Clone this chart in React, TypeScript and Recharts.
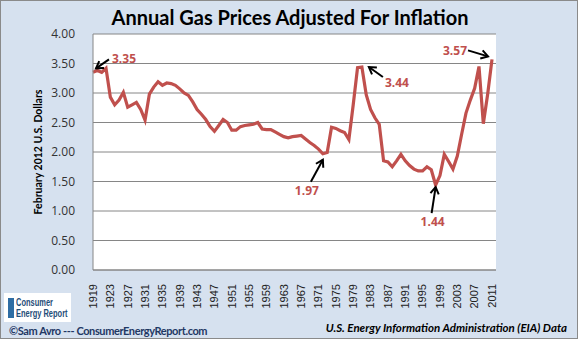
import React from "react";
import {
  LineChart,
  Line,
  XAxis,
  YAxis,
  CartesianGrid,
  ReferenceDot,
} from "recharts";

// years on the category axis
const years = [
  1919, 1920, 1921, 1922, 1923, 1924, 1925, 1926, 1927, 1928,
  1929, 1930, 1931, 1932, 1933, 1934, 1935, 1936, 1937, 1938,
  1939, 1940, 1941, 1942, 1943, 1944, 1945, 1946, 1947, 1948,
  1949, 1950, 1951, 1952, 1953, 1954, 1955, 1956, 1957, 1958,
  1959, 1960, 1961, 1962, 1963, 1964, 1965, 1966, 1967, 1968,
  1969, 1970, 1971, 1972, 1973, 1974, 1975, 1976, 1977, 1978,
  1979, 1980, 1981, 1982, 1983, 1984, 1985, 1986, 1987, 1988,
  1989, 1990, 1991, 1992, 1993, 1994, 1995, 1996, 1997, 1998,
  1999, 2000, 2001, 2002, 2003, 2004, 2005, 2006, 2007, 2008,
  2009, 2010, 2011,
];

const prices = [
  3.35, 3.38, 3.35, 3.42, 2.93, 2.8, 2.88, 3.01, 2.76, 2.8,
  2.84, 2.72, 2.54, 2.98, 3.1, 3.19, 3.13, 3.17, 3.16, 3.13,
  3.07, 3.0, 2.96, 2.85, 2.72, 2.64, 2.55, 2.43, 2.35, 2.45,
  2.55, 2.5, 2.37, 2.37, 2.43, 2.45, 2.46, 2.47, 2.5, 2.39,
  2.38, 2.38, 2.34, 2.3, 2.26, 2.24, 2.26, 2.27, 2.28, 2.22,
  2.16, 2.11, 2.05, 1.97, 1.99, 2.42, 2.4, 2.36, 2.33, 2.21,
  2.8, 3.43, 3.44, 2.97, 2.72, 2.58, 2.47, 1.85, 1.83, 1.75,
  1.85, 1.96, 1.85, 1.77, 1.71, 1.68, 1.68, 1.75, 1.7, 1.44,
  1.6, 1.96, 1.84, 1.71, 1.93, 2.3, 2.66, 2.88, 3.08, 3.45,
  2.48, 2.98, 3.57,
];

const yTicks = [0, 0.5, 1, 1.5, 2, 2.5, 3, 3.5, 4];

// called-out points
const noteYears = [1919, 1981, 1972, 1998, 2011];
const noteLabels = ["3.35", "3.44", "1.97", "1.44", "3.57"];

const data = years.map((year, i) => ({ year, price: prices[i] }));

const RED = "#C0504D";
const GRID = "#868686";
const BG = "#D6E1EF";

// arrow head / tail / text offsets from the point, per note
const noteLayout = [
  { hx: 3, hy: -4, tx: 16, ty: -13, lx: 19, ly: -13, anchor: "start" },
  { hx: 7, hy: 0, tx: 21, ty: 10, lx: 23, ly: 17, anchor: "start" },
  { hx: 0, hy: 6, tx: -12, ty: 28, lx: -16, ly: 38, anchor: "middle" },
  { hx: 0, hy: 2, tx: -4, ty: 28, lx: -3, ly: 38, anchor: "middle" },
  { hx: -4, hy: -3, tx: -24, ty: -9, lx: -25, ly: -8, anchor: "end" },
];

function noteShape(i: number) {
  return (props: any) => {
    const { cx, cy } = props;
    const l = noteLayout[i];
    const hx = cx + l.hx;
    const hy = cy + l.hy;
    const tx = cx + l.tx;
    const ty = cy + l.ty;
    const ang = Math.atan2(ty - hy, tx - hx);
    const a = 0.55;
    const len = 8;
    const p1 = [hx + len * Math.cos(ang + a), hy + len * Math.sin(ang + a)];
    const p2 = [hx + len * Math.cos(ang - a), hy + len * Math.sin(ang - a)];
    return (
      <g>
        <line x1={tx} y1={ty} x2={hx} y2={hy} stroke="#000" strokeWidth={2} />
        <polyline
          points={`${p1[0]},${p1[1]} ${hx},${hy} ${p2[0]},${p2[1]}`}
          fill="none"
          stroke="#000"
          strokeWidth={2}
        />
        <text
          x={cx + l.lx}
          y={cy + l.ly}
          textAnchor={l.anchor}
          dominantBaseline="middle"
          fill={RED}
          fontSize={12}
          fontWeight="bold"
          fontFamily="Open Sans, sans-serif"
        >
          {noteLabels[i]}
        </text>
      </g>
    );
  };
}

const YearTick = (props: any) => {
  const { x, y, payload } = props;
  return (
    <text
      x={x}
      y={y + 6}
      transform={`rotate(-90, ${x}, ${y + 6})`}
      textAnchor="end"
      dy="0.35em"
      fill="#222"
      fontSize={11}
      fontFamily="Liberation Sans, sans-serif"
    >
      {payload.value}
    </text>
  );
};

export default function App() {
  return (
    <div
      style={{
        position: "absolute",
        left: 0,
        top: 0,
        width: 578,
        height: 339,
        boxSizing: "border-box",
        background: BG,
        border: "1px solid #8a8a8a",
        overflow: "hidden",
        fontFamily: "Lato, sans-serif",
      }}
    >
      <div
        style={{
          position: "absolute",
          left: 0,
          top: 4,
          width: 578,
          textAlign: "center",
          fontSize: 20,
          fontWeight: "bold",
          color: "#000",
        }}
      >
        Annual Gas Prices Adjusted For Inflation
      </div>
      <div style={{ position: "absolute", left: -1, top: -1 }}>
        <LineChart
          width={578}
          height={339}
          data={data}
          margin={{ top: 34, right: 82, bottom: 0, left: 0 }}
        >
          <CartesianGrid
            vertical={false}
            stroke={GRID}
            fill="#ffffff"
            fillOpacity={1}
          />
          <XAxis
            dataKey="year"
            interval={3}
            height={69}
            tickLine={false}
            axisLine={{ stroke: GRID }}
            padding={{ left: 0, right: 4 }}
            tick={<YearTick />}
          />
          <YAxis
            width={93}
            domain={[0, 4]}
            ticks={yTicks}
            tickFormatter={(v: number) => v.toFixed(2)}
            tickLine={false}
            axisLine={{ stroke: GRID }}
            tickMargin={12}
            tick={{ fill: "#333", fontSize: 12, fontFamily: "Open Sans, sans-serif" }}
            label={{
              value: "February 2012 U.S. Dollars",
              angle: -90,
              position: "insideLeft",
              offset: 38,
              style: {
                fontSize: 10.5,
                fontWeight: "bold",
                fill: "#000",
                fontFamily: "Lato, sans-serif",
                textAnchor: "middle",
              },
            }}
          />
          <Line
            type="linear"
            dataKey="price"
            stroke={RED}
            strokeWidth={3.2}
            dot={false}
            isAnimationActive={false}
          />
          {noteYears.map((yr, i) => (
            <ReferenceDot
              key={yr}
              x={yr}
              y={prices[years.indexOf(yr)]}
              r={0}
              ifOverflow="visible"
              shape={noteShape(i)}
            />
          ))}
        </LineChart>
      </div>
      <div
        style={{
          position: "absolute",
          left: 3,
          top: 292,
          width: 67,
          height: 29,
          background: "#fff",
          display: "flex",
          alignItems: "center",
          overflow: "hidden",
        }}
      >
        <div
          style={{
            width: 6,
            height: 20,
            marginLeft: 4,
            marginRight: 2,
            background: "#2E6DA4",
            flexShrink: 0,
          }}
        />
        <div
          style={{
            fontFamily: "Liberation Sans, sans-serif",
            fontWeight: "bold",
            fontSize: 11,
            lineHeight: "11px",
            color: "#1F4E79",
            whiteSpace: "nowrap",
            transform: "scaleX(0.68)",
            transformOrigin: "left center",
          }}
        >
          Consumer
          <br />
          Energy Report
        </div>
      </div>
      <div
        style={{
          position: "absolute",
          left: 8,
          top: 323,
          fontSize: 11,
          fontWeight: "bold",
          letterSpacing: -0.4,
          color: "#1F3864",
          fontFamily: "Lato, sans-serif",
          whiteSpace: "nowrap",
        }}
      >
        ©Sam Avro --- ConsumerEnergyReport.com
      </div>
      <div
        style={{
          position: "absolute",
          right: 10,
          top: 320,
          fontSize: 11.5,
          fontStyle: "italic",
          fontWeight: "bold",
          color: "#000",
          fontFamily: "Lato, sans-serif",
          whiteSpace: "nowrap",
        }}
      >
        U.S. Energy Information Administration (EIA) Data
      </div>
    </div>
  );
}
